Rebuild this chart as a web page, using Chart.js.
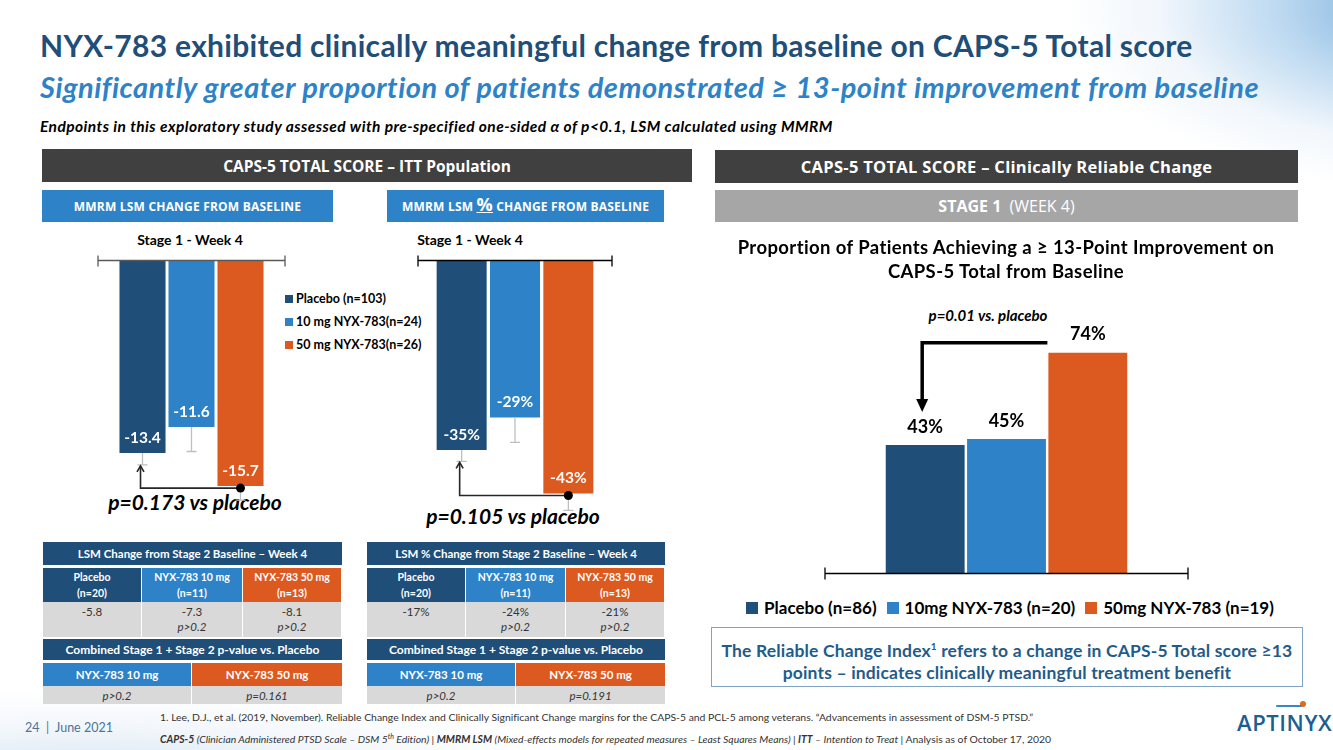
<!DOCTYPE html>
<html><head><meta charset="utf-8">
<script src="https://cdn.jsdelivr.net/npm/chart.js@4"></script>
<style>
*{margin:0;padding:0;box-sizing:border-box}
body{width:1333px;height:750px;position:relative;overflow:hidden;background:#fff;font-family:Lato,"Open Sans",sans-serif;color:#000;font-variant-ligatures:none;font-feature-settings:"liga" 0}
.abs{position:absolute}
.bg1{left:1060px;top:-90px;width:460px;height:280px;background:radial-gradient(ellipse at 80% 35%,rgba(90,155,210,.85) 0%,rgba(150,195,232,.6) 30%,rgba(210,228,245,.3) 52%,rgba(255,255,255,0) 70%)}
.bg2{left:-120px;top:690px;width:700px;height:140px;background:radial-gradient(ellipse at 30% 60%,rgba(180,205,230,.55) 0%,rgba(220,232,245,.35) 40%,rgba(255,255,255,0) 70%)}
.title{left:40px;top:27px;font-size:30px;letter-spacing:.3px;font-weight:700;color:#1f4e79;white-space:nowrap}
.sub{left:40px;top:69px;font-size:29px;letter-spacing:.5px;font-weight:700;font-style:italic;color:#2e83c8;white-space:nowrap}
.note{left:40px;top:117px;font-size:15.5px;letter-spacing:.45px;font-weight:700;font-style:italic;white-space:nowrap}
.bar{display:flex;align-items:center;justify-content:center;color:#fff;font-weight:700;white-space:nowrap;font-family:"Open Sans",sans-serif}
.dark{background:#404040;font-size:15.5px}
.blue{background:#2e83c8}
.navy{background:#1f4e79}
.orange{background:#dc5a1f}
.gray{background:#d9d9d9}
.sb{font-size:12px;letter-spacing:.2px}
.stage{font-size:14px;font-weight:700;text-align:center;width:200px}
.leg{font-size:12.5px;font-weight:700;display:flex;align-items:center;white-space:nowrap}
.leg i{display:inline-block;width:8px;height:8px;margin-right:3px}
.pt{font-size:21px;font-weight:700;font-style:italic;white-space:nowrap;text-align:center;width:260px}
.cell{display:flex;align-items:center;justify-content:center;text-align:center;color:#fff;font-weight:700;font-size:10.5px;line-height:16px}
.val{text-align:center;font-size:11.5px;color:#333;line-height:15px;padding-top:2px}
.th{font-size:11.5px}
canvas{position:absolute}
.rleg{left:700px;top:597px;width:620px;display:flex;justify-content:center;gap:10px;font-size:17px;font-weight:700;white-space:nowrap}
.rleg span{display:flex;align-items:center}
.rleg i{display:inline-block;width:12px;height:12px;margin-right:6px}
.box{left:711px;top:627px;width:592px;height:60px;border:1.5px solid #7fa3c4;color:#1f5c8b;font-size:17.5px;letter-spacing:.15px;font-weight:700;text-align:center;line-height:22px;padding-top:7px;white-space:nowrap}
.foot{font-size:10.4px;color:#333;white-space:nowrap}
</style></head><body>
<div class="abs bg1"></div>
<div class="abs bg2"></div>

<div class="abs title">NYX-783 exhibited clinically meaningful change from baseline on CAPS-5 Total score</div>
<div class="abs sub">Significantly greater proportion of patients demonstrated ≥ 13-point improvement from baseline</div>
<div class="abs note">Endpoints in this exploratory study assessed with pre-specified one-sided α of p&lt;0.1, LSM calculated using MMRM</div>

<div class="abs bar dark" style="left:42px;top:149px;width:650px;height:33px">CAPS-5 TOTAL SCORE – ITT Population</div>
<div class="abs bar blue sb" style="left:42px;top:190px;width:291px;height:32px">MMRM LSM CHANGE FROM BASELINE</div>
<div class="abs bar blue sb" style="left:387px;top:190px;width:277px;height:32px">MMRM LSM&nbsp;<span style="font-size:18px;text-decoration:underline;margin-top:-4px">%</span>&nbsp;CHANGE FROM BASELINE</div>

<div class="abs bar dark" style="left:715px;top:150px;width:583px;height:33px;font-size:16.5px;letter-spacing:.3px">CAPS-5 TOTAL SCORE – Clinically Reliable Change</div>
<div class="abs bar" style="left:715px;top:190px;width:583px;height:32px;background:#a6a6a6;font-size:16px;font-weight:400"><b>STAGE 1</b>&nbsp;&nbsp;(WEEK 4)</div>

<div class="abs stage" style="left:90px;top:231px">Stage 1 - Week 4</div>
<div class="abs stage" style="left:370px;top:231px">Stage 1 - Week 4</div>

<div id="legL"></div>

<div class="abs pt" style="left:65px;top:489px">p=0.173 vs placebo</div>
<div class="abs pt" style="left:383px;top:503px">p=0.105 vs placebo</div>

<canvas id="c1" width="320" height="290" style="left:60px;top:240px"></canvas>
<canvas id="c2" width="300" height="290" style="left:380px;top:240px"></canvas>

<div class="abs" style="left:660px;top:235px;width:692px;text-align:center;font-size:18.5px;letter-spacing:.4px;font-weight:700;line-height:24px;white-space:nowrap">Proportion of Patients Achieving a ≥ 13-Point Improvement on<br>CAPS-5 Total from Baseline</div>
<div class="abs" style="left:888px;top:306px;width:200px;text-align:center;font-size:15px;font-weight:700;font-style:italic">p=0.01 vs. placebo</div>

<canvas id="c3" width="450" height="300" style="left:780px;top:290px"></canvas>

<div class="abs rleg" id="legR"></div>
<div class="abs box">The Reliable Change Index<sup style="font-size:10px">1</sup> refers to a change in CAPS-5 Total score ≥13<br>points – indicates clinically meaningful treatment benefit</div>

<div id="tables"></div>

<div class="abs" style="left:25px;top:720px;font-size:12.5px;color:#4f7397;white-space:nowrap">24&nbsp;&nbsp;|&nbsp;&nbsp;June 2021</div>
<div class="abs foot" style="left:160px;top:711px">1. Lee, D.J., et al. (2019, November). Reliable Change Index and Clinically Significant Change margins for the CAPS-5 and PCL-5 among veterans. “Advancements in assessment of DSM-5 PTSD.”</div>
<div class="abs foot" style="left:160px;top:732px;font-style:italic"><b>CAPS-5</b> (Clinician Administered PTSD Scale – DSM 5<sup style="font-size:7px">th</sup> Edition) <span style="font-style:normal">|</span> <b>MMRM LSM</b> (Mixed-effects models for repeated measures – Least Squares Means) <span style="font-style:normal">|</span> <b>ITT</b> – Intention to Treat <span style="font-style:normal">| Analysis as of October 17, 2020</span></div>
<div class="abs" style="left:1237px;top:707px;font-family:'Open Sans',sans-serif;font-weight:600;font-size:22px;color:#1d5f93;letter-spacing:.6px;white-space:nowrap">APTINYX</div>
<div class="abs" style="left:1300px;top:701px;width:6px;height:6px;border-radius:3px;background:#e06a20"></div>
<div class="abs" style="left:1276px;top:705px;width:26px;height:2px;background:#3b86c6;border-radius:1px"></div>

<script>
// ---------- data ----------
const groupNames = ['Placebo', '10 mg NYX-783', '50 mg NYX-783'];
const legendLeft = ['Placebo (n=103)', '10 mg NYX-783(n=24)', '50 mg NYX-783(n=26)'];
const lsmChange = [-13.4, -11.6, -15.7];
const lsmChangeErr = [0.83, 1.7, 0.97];
const lsmChangeLabels = ['-13.4', '-11.6', '-15.7'];
const lsmPct = [-35, -29, -43];
const lsmPctErr = [2.1, 4.6, 3.1];
const lsmPctLabels = ['-35%', '-29%', '-43%'];
const rciPct = [43, 45, 74];
const rciLabels = ['43%', '45%', '74%'];
const legendRight = ['Placebo (n=86)', '10mg NYX-783 (n=20)', '50mg NYX-783 (n=19)'];
const colors = ['#1f4e79', '#2e83c8', '#dc5a1f'];

const tblLeft = {title:'LSM Change from Stage 2 Baseline – Week 4', heads:['Placebo<br>(n=20)','NYX-783 10 mg<br>(n=11)','NYX-783 50 mg<br>(n=13)'], vals:['-5.8','-7.3','-8.1'], ps:['','p>0.2','p>0.2'], comb:['p>0.2','p=0.161']};
const tblRight = {title:'LSM % Change from Stage 2 Baseline – Week 4', heads:['Placebo<br>(n=20)','NYX-783 10 mg<br>(n=11)','NYX-783 50 mg<br>(n=13)'], vals:['-17%','-24%','-21%'], ps:['','p>0.2','p>0.2'], comb:['p>0.2','p=0.191']};

// ---------- legends ----------
let lh = '';
legendLeft.forEach((t,i)=>{ lh += `<div class="abs leg" style="left:285px;top:${291+i*23}px"><i style="background:${colors[i]}"></i>${t}</div>`; });
document.getElementById('legL').innerHTML = lh;
document.getElementById('legR').innerHTML = legendRight.map((t,i)=>`<span><i style="background:${colors[i]}"></i>${t}</span>`).join('');

// ---------- tables ----------
function table(x, w, c1, c2, t){
  const wc = [c1-x, c2-c1, x+w-c2];
  const xs = [x, c1, c2];
  const half = Math.round(w/2) + (x===43?-1:0);
  let h = `<div class="abs cell navy th" style="left:${x}px;top:542px;width:${w}px;height:23px">${t.title}</div>`;
  for(let i=0;i<3;i++){
    h += `<div class="abs cell" style="left:${xs[i]}px;top:568px;width:${wc[i]-1}px;height:34px;background:${colors[i]}">${t.heads[i]}</div>`;
    h += `<div class="abs val gray" style="left:${xs[i]}px;top:602px;width:${wc[i]-1}px;height:35px">${t.vals[i]}${t.ps[i]?'<br><i>'+t.ps[i]+'</i>':''}</div>`;
  }
  h += `<div class="abs cell navy th" style="left:${x}px;top:639px;width:${w}px;height:21px;font-size:12px">Combined Stage 1 + Stage 2 p-value vs. Placebo</div>`;
  h += `<div class="abs cell blue" style="left:${x}px;top:663px;width:${half-1}px;height:23px;font-size:11.5px">NYX-783 10 mg</div>`;
  h += `<div class="abs cell orange" style="left:${x+half}px;top:663px;width:${w-half}px;height:23px;font-size:11.5px">NYX-783 50 mg</div>`;
  h += `<div class="abs val gray" style="left:${x}px;top:686px;width:${half-1}px;height:18px;padding-top:2px"><i>${t.comb[0]}</i></div>`;
  h += `<div class="abs val gray" style="left:${x+half}px;top:686px;width:${w-half}px;height:18px;padding-top:2px"><i>${t.comb[1]}</i></div>`;
  return h;
}
document.getElementById('tables').innerHTML = table(43, 299, 142, 243, tblLeft) + table(367, 298, 466, 566, tblRight);

// ---------- chart helpers ----------
function axisPlugin(color, tickUp, tickDown){
  return {id:'axisLine', afterDatasetsDraw(ch){
    const a = ch.chartArea, c = ch.ctx, y0 = Math.round(ch.scales.y.getPixelForValue(0)) + 0.5;
    c.save(); c.strokeStyle = color; c.lineWidth = 1.3;
    c.beginPath(); c.moveTo(a.left, y0); c.lineTo(a.right, y0);
    c.moveTo(a.left, y0-tickUp); c.lineTo(a.left, y0+tickDown);
    c.moveTo(a.right, y0-tickUp); c.lineTo(a.right, y0+tickDown);
    c.stroke(); c.restore();
  }};
}
function barsPlugin(errs, labels, labelColor, labelOffset, font){
  return {id:'barsDeco', afterDatasetsDraw(ch){
    const c = ch.ctx, ys = ch.scales.y;
    c.save();
    ch.data.datasets.forEach((ds,i)=>{
      const el = ch.getDatasetMeta(i).data[0];
      const v = ds.data[0];
      if(errs){
        const ye = ys.getPixelForValue(v - errs[i]);
        c.strokeStyle = '#bfbfbf'; c.lineWidth = 1.3;
        c.beginPath(); c.moveTo(el.x, el.y); c.lineTo(el.x, ye);
        c.moveTo(el.x-5, ye); c.lineTo(el.x+5, ye); c.stroke();
      }
      c.fillStyle = labelColor; c.font = font; c.textAlign = 'center'; c.textBaseline = 'middle';
      c.fillText(labels[i], el.x, el.y + labelOffset);
    });
    c.restore();
  }};
}
function compareArrow(errs){
  return {id:'cmpArrow', afterDraw(ch){
    const c = ch.ctx, ys = ch.scales.y;
    const p = ch.getDatasetMeta(0).data[0], d = ch.getDatasetMeta(2).data[0];
    const xL = p.x - 2, yTop = ys.getPixelForValue(ch.data.datasets[0].data[0] - errs[0]) + 1;
    const yLine = d.y + 2;
    c.save(); c.strokeStyle = '#262626'; c.lineWidth = 1.6;
    c.beginPath(); c.moveTo(d.x, yLine); c.lineTo(xL, yLine); c.lineTo(xL, yTop); c.stroke();
    c.beginPath(); c.moveTo(xL-3.5, yTop+6); c.lineTo(xL, yTop); c.lineTo(xL+3.5, yTop+6); c.stroke();
    c.fillStyle = '#000'; c.beginPath(); c.arc(d.x, yLine, 4.5, 0, Math.PI*2); c.fill();
    c.restore();
  }};
}
function makeDatasets(vals, cp, bp){
  return vals.map((v,i)=>({label: groupNames[i], data:[v], backgroundColor: colors[i], categoryPercentage: cp, barPercentage: bp, borderWidth:0}));
}
const baseOpts = (min, max, pad) => ({responsive:false, animation:false, events:[],
  layout:{padding:pad},
  plugins:{legend:{display:false}, tooltip:{enabled:false}},
  scales:{x:{display:false}, y:{display:false, min:min, max:max}}});

new Chart(document.getElementById('c1'), {type:'bar',
  data:{labels:['Stage 1 - Week 4'], datasets: makeDatasets(lsmChange, 0.786, 0.94)},
  options: baseOpts(-18, 0, {left:38, right:95, top:20, bottom:10.8}),
  plugins:[barsPlugin(lsmChangeErr, lsmChangeLabels, '#fff', -15, 'bold 15.5px Lato'), axisPlugin('#595959', 5, 6), compareArrow(lsmChangeErr)]});

new Chart(document.getElementById('c2'), {type:'bar',
  data:{labels:['Stage 1 - Week 4'], datasets: makeDatasets(lsmPct, 0.825, 0.9375)},
  options: baseOpts(-48, 0, {left:38, right:68, top:20, bottom:9.4}),
  plugins:[barsPlugin(lsmPctErr, lsmPctLabels, '#fff', -15, 'bold 15.5px Lato'), axisPlugin('#000', 5, 6), compareArrow(lsmPctErr)]});

const rciArrow = {id:'rciArrow', afterDraw(ch){
  const c = ch.ctx;
  const p = ch.getDatasetMeta(0).data[0], d = ch.getDatasetMeta(2).data[0];
  const xL = p.x - 3, yH = d.y - 10, tip = p.y - 33;
  c.save(); c.strokeStyle = '#000'; c.fillStyle = '#000'; c.lineWidth = 3.5;
  c.beginPath(); c.moveTo(d.x - d.width/2 - 1, yH); c.lineTo(xL, yH); c.lineTo(xL, tip - 12); c.stroke();
  c.beginPath(); c.moveTo(xL-6, tip-13); c.lineTo(xL+6, tip-13); c.lineTo(xL, tip); c.closePath(); c.fill();
  c.restore();
}};
new Chart(document.getElementById('c3'), {type:'bar',
  data:{labels:['Stage 1 (Week 4)'], datasets: makeDatasets(rciPct, 0.672, 0.97)},
  options: baseOpts(0, 90, {left:45, right:42, top:15, bottom:17}),
  plugins:[barsPlugin(null, rciLabels, '#000', -18, 'bold 18px Lato'), axisPlugin('#000', 6, 6), rciArrow]});
</script>
</body></html>
